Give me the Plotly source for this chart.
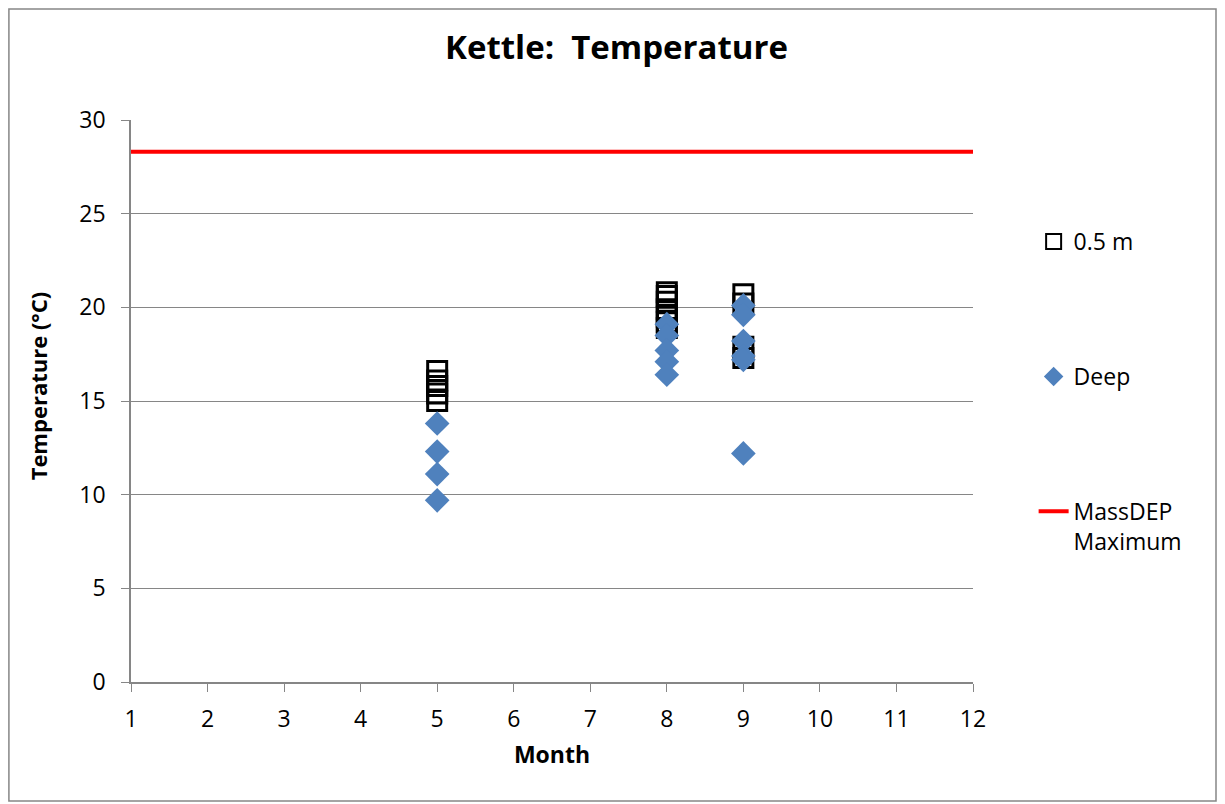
import plotly.graph_objects as go

# Kettle pond temperature readings by month
surface_month = [5, 5, 5, 5, 5, 8, 8, 8, 8, 8, 8, 8, 9, 9, 9, 9]
surface_temp = [16.6, 16.1, 15.8, 15.4, 15.0, 20.8, 20.6, 20.3, 19.9, 19.5, 19.2, 18.9, 20.7, 20.2, 17.9, 17.3]

deep_month = [5, 5, 5, 5, 8, 8, 8, 8, 8, 9, 9, 9, 9, 9, 9]
deep_temp = [13.8, 12.3, 11.1, 9.7, 19.1, 18.5, 17.7, 17.1, 16.4, 20.1, 19.6, 18.2, 17.4, 17.2, 12.2]

max_month = [1, 12]
max_temp = [28.3, 28.3]

font = "'Open Sans', 'Noto Sans', sans-serif"
grey = "#868686"

fig = go.Figure()

fig.add_trace(go.Scatter(x=max_month, y=max_temp, mode="lines",
                         line=dict(color="#FF0000", width=4), showlegend=False))
fig.add_trace(go.Scatter(x=surface_month, y=surface_temp, mode="markers",
                         marker=dict(symbol="square-open", size=19, color="black",
                                     line=dict(width=3, color="black")),
                         showlegend=False))
fig.add_trace(go.Scatter(x=deep_month, y=deep_temp, mode="markers",
                         marker=dict(symbol="diamond", size=19, color="#4F81BD"),
                         showlegend=False))

# legend-only entries with smaller symbols, like the Excel legend
fig.add_trace(go.Scatter(x=[None], y=[None], mode="markers", name="0.5 m", legendgroup="a",
                         marker=dict(symbol="square-open", size=15, color="black",
                                     line=dict(width=2, color="black"))))
fig.add_trace(go.Scatter(x=[None], y=[None], mode="markers", name="Deep", legendgroup="b",
                         marker=dict(symbol="diamond", size=15, color="#4F81BD")))
fig.add_trace(go.Scatter(x=[None], y=[None], mode="lines", name="MassDEP<br>Maximum",
                         legendgroup="c", line=dict(color="#FF0000", width=4)))

fig.update_layout(
    width=1217, height=796,
    paper_bgcolor="white", plot_bgcolor="white",
    margin=dict(l=123, r=252, t=112, b=122),
    font=dict(family=font, size=23, color="black"),
    title=dict(text="<b>Kettle:  Temperature</b>", x=0.5, xanchor="center",
               y=0.95, yanchor="middle", font=dict(size=33)),
    legend=dict(x=1.072, xanchor="left", y=0.822, yanchor="top", valign="top",
                tracegroupgap=102, font=dict(size=23), bgcolor="rgba(0,0,0,0)"),
    shapes=[dict(type="rect", xref="paper", yref="paper", x0=-0.145, x1=1.2886,
                 y0=-0.2117, y1=1.1975, line=dict(color=grey, width=1.5))],
    annotations=[dict(text="<b>Temperature (°C)</b>", textangle=-90, xref="paper", yref="paper",
                      x=-0.111, y=0.527, xanchor="center", yanchor="middle",
                      showarrow=False, font=dict(size=22))],
)

fig.update_xaxes(range=[1, 12], tickmode="linear", tick0=1, dtick=1,
                 showgrid=False, showline=True, linecolor=grey, linewidth=1.5,
                 ticks="outside", ticklen=8, tickcolor=grey, ticklabelstandoff=8,
                 title=dict(text="<b>Month</b>", font=dict(size=23), standoff=14),
                 zeroline=False)
fig.update_yaxes(range=[0, 30], tickmode="linear", tick0=0, dtick=5,
                 showgrid=True, gridcolor=grey, gridwidth=1,
                 showline=True, linecolor=grey, linewidth=1.5,
                 ticks="outside", ticklen=8, tickcolor=grey, ticklabelstandoff=11,
                 zeroline=False)

fig.write_html("out.html")
